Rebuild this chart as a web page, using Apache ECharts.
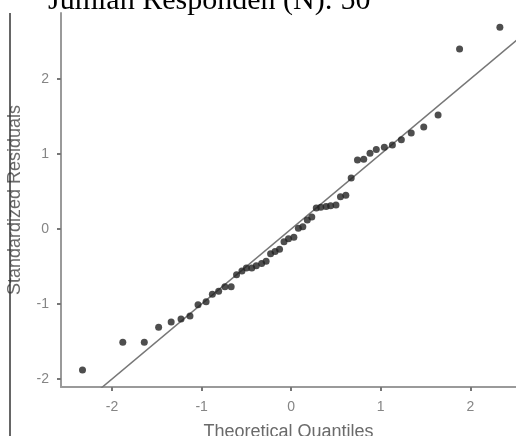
<!DOCTYPE html>
<html>
<head>
<meta charset="utf-8">
<script src="https://cdn.jsdelivr.net/npm/echarts@6/dist/echarts.min.js"></script>
<style>
  html, body { margin: 0; padding: 0; background: #fff; }
  #qq-plot { width: 516px; height: 436px; }
</style>
</head>
<body>
<div id="qq-plot"></div>
<script>
  // theoretical quantiles (x) and sorted standardized residuals (y)
  var quantiles = [
    -2.33, -1.88, -1.64, -1.48, -1.34, -1.23, -1.13, -1.04, -0.95, -0.88,
    -0.81, -0.74, -0.67, -0.61, -0.55, -0.50, -0.44, -0.39, -0.33, -0.28,
    -0.23, -0.18, -0.13, -0.08, -0.03,
     0.03,  0.08,  0.13,  0.18,  0.23,  0.28,  0.33,  0.39,  0.44,  0.50,
     0.55,  0.61,  0.67,  0.74,  0.81,  0.88,  0.95,  1.04,  1.13,  1.23,
     1.34,  1.48,  1.64,  1.88,  2.33
  ]
  var residuals = [
    -1.88, -1.51, -1.51, -1.31, -1.24, -1.20, -1.16, -1.01, -0.97, -0.87,
    -0.83, -0.77, -0.77, -0.61, -0.56, -0.52, -0.52, -0.49, -0.46, -0.43,
    -0.33, -0.30, -0.27, -0.17, -0.13,
    -0.11,  0.01,  0.03,  0.12,  0.16,  0.28,  0.29,  0.30,  0.31,  0.32,
     0.43,  0.45,  0.68,  0.92,  0.93,  1.01,  1.06,  1.09,  1.12,  1.19,
     1.28,  1.36,  1.52,  2.40,  2.69
  ]
  // reference line end points
  var refLineX = [-2.6, 2.6]
  var refLineY = [-2.6, 2.6]
  var tickValues = [-2, -1, 0, 1, 2]
  var titleText = 'Jumlah Responden (N): 50'

  var points = quantiles.map(function (q, i) { return [q, residuals[i]] })
  var refLine = refLineX.map(function (x, i) { return [x, refLineY[i]] })

  var myChart = echarts.init(document.getElementById('qq-plot'))
  var axisGray = '#9a9a9a'
  var labelGray = '#858585'

  myChart.setOption({
    animation: false,
    title: {
      text: titleText,
      left: 43,
      top: -19,
      textStyle: {
        fontFamily: '"Liberation Serif", serif',
        fontSize: 30,
        fontWeight: 'normal',
        color: '#000'
      }
    },
    grid: {
      left: 61,
      right: 0,
      top: 13,
      bottom: 49,
      containLabel: false,
      outerBoundsMode: 'none'
    },
    xAxis: {
      type: 'value',
      min: -2.57,
      max: 2.51,
      name: 'Theoretical Quantiles',
      nameLocation: 'middle',
      nameGap: 36,
      nameTextStyle: {
        fontFamily: '"Liberation Sans", Arial',
        fontSize: 18,
        color: '#6a6a6a'
      },
      axisLine: { onZero: false, lineStyle: { color: axisGray, width: 2 } },
      axisTick: { show: true, length: 4, customValues: tickValues, lineStyle: { color: '#777', width: 2 } },
      axisLabel: {
        customValues: tickValues,
        margin: 13,
        fontFamily: '"Liberation Sans", Arial',
        fontSize: 14,
        color: labelGray
      },
      splitLine: { show: false }
    },
    yAxis: {
      type: 'value',
      min: -2.107,
      max: 2.88,
      name: 'Standardized Residuals',
      nameLocation: 'middle',
      nameGap: 37,
      nameTextStyle: {
        fontFamily: '"Liberation Sans", Arial',
        fontSize: 18,
        color: '#6a6a6a'
      },
      axisLine: { show: true, onZero: false, lineStyle: { color: axisGray, width: 2 } },
      axisTick: { show: true, length: 4, customValues: tickValues, lineStyle: { color: '#777', width: 2 } },
      axisLabel: {
        customValues: tickValues,
        margin: 12,
        fontFamily: '"Liberation Sans", Arial',
        fontSize: 14,
        color: labelGray
      },
      splitLine: { show: false }
    },
    graphic: [
      {
        type: 'line',
        shape: { x1: 10, y1: 13, x2: 10, y2: 436 },
        style: { stroke: '#333', lineWidth: 1.5 },
        z: 10
      }
    ],
    series: [
      {
        type: 'line',
        data: refLine,
        clip: true,
        symbol: 'none',
        lineStyle: { color: '#777', width: 1.5 },
        z: 2
      },
      {
        type: 'scatter',
        data: points,
        symbolSize: 7,
        itemStyle: { color: '#222' },
        z: 3
      }
    ]
  })
</script>
</body>
</html>
